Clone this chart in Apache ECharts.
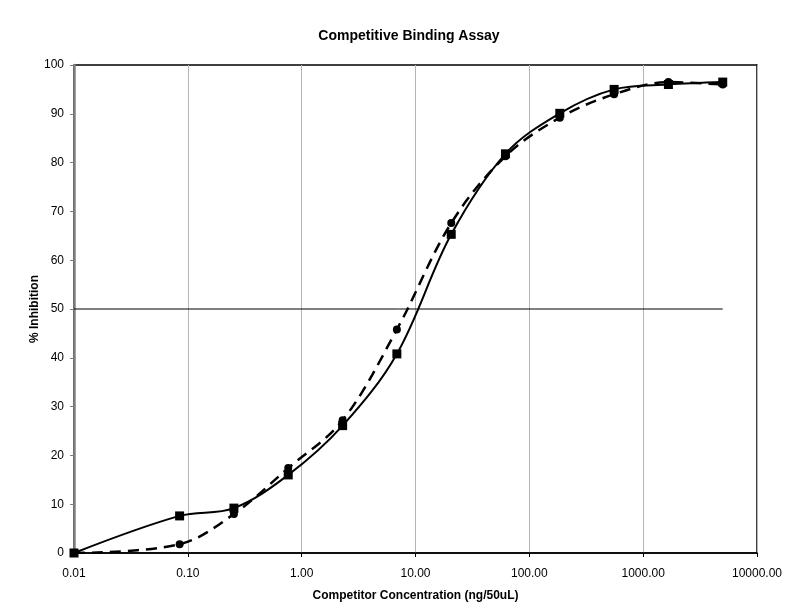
<!DOCTYPE html>
<html>
<head>
<meta charset="utf-8">
<script src="https://cdn.jsdelivr.net/npm/echarts@6/dist/echarts.min.js"></script>
<style>
    html, body { margin: 0; padding: 0; background: #fff; }
    #chart { width: 786px; height: 610px; }
</style>
</head>
<body>
<div id="chart"></div>
<script>
// concentrations (ng/50uL), blank first
var concData = [0.01, 0.0847, 0.254, 0.762, 2.29, 6.86, 20.6, 61.7, 185.2, 555.6, 1666.7, 5000];
// % inhibition
var squareData = [0, 7.6, 9.2, 16.0, 26.1, 40.8, 65.3, 81.8, 90.1, 95.0, 96.0, 96.5];
var circleData = [0, 1.8, 8.0, 17.4, 27.2, 45.8, 67.6, 81.3, 89.2, 94.0, 96.5, 96.0];
var halfLine = [[0.01, 50], [5000, 50]];

var fontName = "'Liberation Sans', Arial, sans-serif";

function pairs(xs, ys) {
    var out = [];
    for (var i = 0; i < xs.length; i++) {
        out.push([xs[i], ys[i]]);
    }
    return out;
}

var chart = echarts.init(document.getElementById('chart'));
var option = {
    animation: false,
    textStyle: { fontFamily: fontName },
    title: {
        text: 'Competitive Binding Assay',
        left: 404,
        textAlign: 'center',
        top: 24,
        textStyle: { fontSize: 14, fontWeight: 'bold', color: '#000', fontFamily: fontName }
    },
    grid: {
        left: 74,
        right: 29,
        top: 65,
        bottom: 57,
        show: true,
        borderColor: '#000',
        borderWidth: 1.5
    },
    xAxis: {
        type: 'log',
        logBase: 10,
        min: 0.01,
        max: 10000,
        name: 'Competitor Concentration (ng/50uL)',
        nameLocation: 'middle',
        nameGap: 37,
        nameMoveOverlap: false,
        nameTextStyle: { fontSize: 12, fontWeight: 'bold', color: '#000', fontFamily: fontName },
        axisLine: { lineStyle: { color: '#000', width: 1.5 } },
        axisTick: { show: true, length: 4, lineStyle: { color: '#000' } },
        axisLabel: {
            color: '#000',
            fontSize: 12,
            margin: 15,
            formatter: function (v) { return Number(v).toFixed(2); }
        },
        splitLine: { show: true, lineStyle: { color: '#b4b4b4', width: 1 } }
    },
    yAxis: {
        type: 'value',
        min: 0,
        max: 100,
        interval: 10,
        name: '% Inhibition',
        nameLocation: 'middle',
        nameGap: 33,
        nameRotate: 90,
        nameMoveOverlap: false,
        nameTextStyle: { fontSize: 12, fontWeight: 'bold', color: '#000', fontFamily: fontName },
        axisLine: { show: true, lineStyle: { color: '#808080', width: 2.5 } },
        axisTick: { show: true, length: 4, lineStyle: { color: '#808080' } },
        axisLabel: { color: '#000', fontSize: 12, margin: 10 },
        splitLine: { show: false }
    },
    series: [{
        name: 'fifty',
        type: 'line',
        data: halfLine,
        symbol: 'none',
        lineStyle: { color: '#000', width: 1 },
        z: 1
    }, {
        name: 'squares',
        type: 'line',
        data: pairs(concData, squareData),
        smooth: 0.35,
        symbol: 'rect',
        symbolSize: 9,
        itemStyle: { color: '#000' },
        lineStyle: { color: '#000', width: 2 },
        z: 3
    }, {
        name: 'circles',
        type: 'line',
        data: pairs(concData, circleData),
        smooth: 0.35,
        symbol: 'circle',
        symbolSize: 8,
        itemStyle: { color: '#000' },
        lineStyle: { color: '#000', width: 2.5, type: [11, 7] },
        z: 2
    }]
};
chart.setOption(option);
</script>
</body>
</html>
